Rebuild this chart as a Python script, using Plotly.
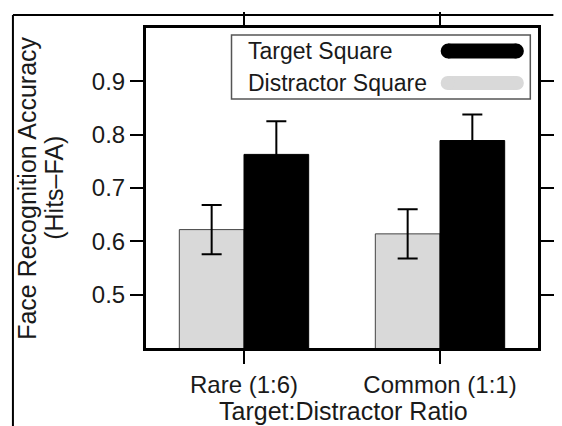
import plotly.graph_objects as go

# ---- data ----
categories = ["Rare (1:6)", "Common (1:1)"]
distractor_vals = [0.622, 0.614]
distractor_err = [0.046, 0.046]
target_vals = [0.763, 0.789]
target_err = [0.062, 0.049]
yticks = [0.5, 0.6, 0.7, 0.8, 0.9]
series_names = ["Target Square", "Distractor Square"]

W, H = 562, 426
L, R, T, B = 146, 8, 28, 78
PW, PH = W - L - R, H - T - B


def px(x):
    return (x - L) / PW


def py(y):
    return (H - B - y) / PH


FONT = "Liberation Sans, Arial, sans-serif"
GRAY = "#d9d9d9"
TXT = "#1a1a1a"

fig = go.Figure()
fig.add_trace(go.Bar(
    x=categories, y=distractor_vals, name=series_names[1],
    marker=dict(color=GRAY, line=dict(color="#444", width=1)),
    error_y=dict(type="data", array=distractor_err, color="black", thickness=2, width=10),
    showlegend=False,
))
fig.add_trace(go.Bar(
    x=categories, y=target_vals, name=series_names[0],
    marker=dict(color="black", line=dict(color="black", width=1)),
    error_y=dict(type="data", array=target_err, color="black", thickness=2, width=10),
    showlegend=False,
))

axis_common = dict(showline=True, linecolor="black", linewidth=3, mirror="ticks",
                   ticks="outside", ticklen=13, tickwidth=2, tickcolor="black",
                   showgrid=False, zeroline=False,
                   tickfont=dict(family=FONT, size=24, color=TXT))

fig.update_layout(
    width=W, height=H, margin=dict(l=L, r=R, t=T, b=B),
    paper_bgcolor="white", plot_bgcolor="white",
    barmode="group", bargap=0.34, bargroupgap=0,
    xaxis=dict(type="category", range=[-0.5, 1.5], **axis_common),
    yaxis=dict(range=[0.4, 1.0], tickvals=yticks, ticktext=[f"{v:.1f}" for v in yticks],
               **axis_common),
    font=dict(family=FONT, color=TXT),
)

shapes = []
# outer frame
shapes.append(dict(type="line", xref="paper", yref="paper", x0=px(7.5), y0=py(15), x1=px(570), y1=py(15),
                   line=dict(color="black", width=2)))
shapes.append(dict(type="line", xref="paper", yref="paper", x0=px(7.5), y0=py(15), x1=px(7.5), y1=py(440),
                   line=dict(color="black", width=2)))
# legend box
shapes.append(dict(type="rect", xref="paper", yref="paper", x0=px(235), x1=px(546), y0=py(99), y1=py(35),
                   line=dict(color="#555", width=1.5), fillcolor="white"))
# legend symbols (rounded thick bars)
for color, yc, th in [("black", 51, 15), (GRAY, 83, 14)]:
    r = th / 2
    shapes.append(dict(type="rect", xref="paper", yref="paper", x0=px(453 + r), x1=px(539 - r),
                       y0=py(yc + r), y1=py(yc - r), line=dict(width=0), fillcolor=color))
    for xc in (453 + r, 539 - r):
        shapes.append(dict(type="circle", xref="paper", yref="paper", xsizemode="pixel", ysizemode="pixel",
                           xanchor=px(xc), yanchor=py(yc), x0=-r, x1=r, y0=-r, y1=r,
                           line=dict(width=0), fillcolor=color))
fig.update_layout(shapes=shapes)

ann = []
ann.append(dict(text=series_names[0], xref="paper", yref="paper", x=px(250), y=py(51),
                xanchor="left", yanchor="middle", showarrow=False,
                font=dict(family=FONT, size=23, color=TXT)))
ann.append(dict(text=series_names[1], xref="paper", yref="paper", x=px(250), y=py(83),
                xanchor="left", yanchor="middle", showarrow=False,
                font=dict(family=FONT, size=23, color=TXT)))
ann.append(dict(text="Face Recognition Accuracy", xref="paper", yref="paper", x=px(22), y=0.5,
                xanchor="center", yanchor="middle", textangle=-90, showarrow=False,
                font=dict(family=FONT, size=25, color=TXT)))
ann.append(dict(text="(Hits–FA)", xref="paper", yref="paper", x=px(50), y=0.5,
                xanchor="center", yanchor="middle", textangle=-90, showarrow=False,
                font=dict(family=FONT, size=25, color=TXT)))
ann.append(dict(text="Target:Distractor Ratio", xref="paper", yref="paper", x=px(352), y=py(426),
                xanchor="center", yanchor="bottom", showarrow=False, borderpad=0,
                font=dict(family=FONT, size=25, color=TXT)))
fig.update_layout(annotations=ann)

fig.write_html("out.html")
